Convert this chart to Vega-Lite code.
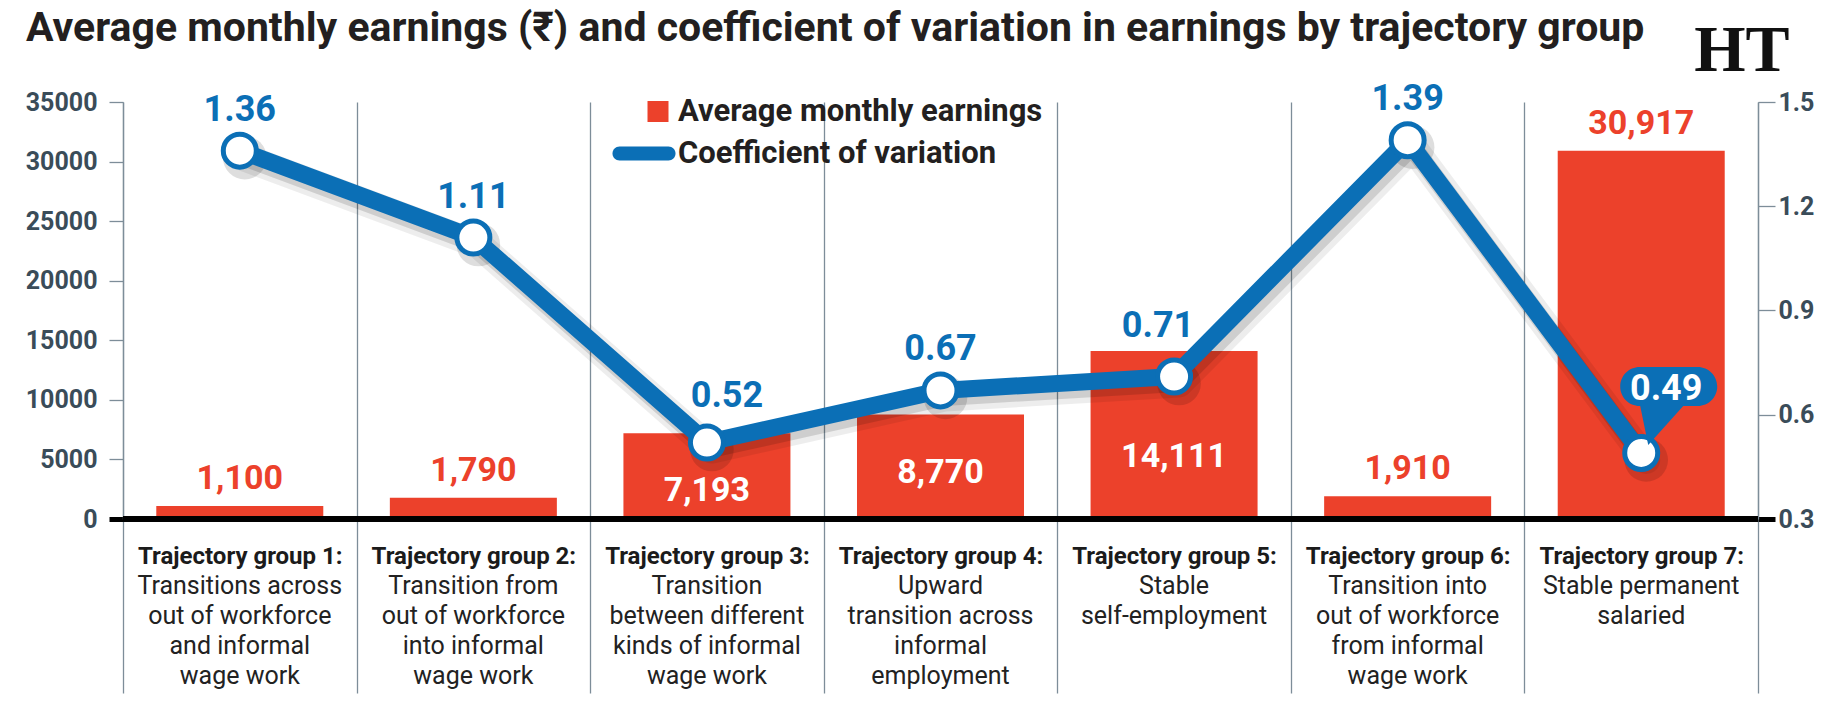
{
  "$schema": "https://vega.github.io/schema/vega-lite/v6.json",
  "width": 1635,
  "height": 417,
  "autosize": {"type": "none"},
  "padding": {"left": 123, "top": 102, "right": 63, "bottom": 188},
  "background": "white",
  "config": {
    "view": {"stroke": null},
    "font": "Roboto, Liberation Sans, sans-serif"
  },
  "title": {
    "text": "Average monthly earnings (₹) and coefficient of variation in earnings by trajectory group",
    "anchor": "start",
    "frame": "group",
    "dx": -97,
    "dy": 33,
    "offset": 0,
    "fontSize": 41,
    "fontWeight": "bold",
    "color": "#231f20"
  },
  "data": {
    "values": [
      {"group": "Trajectory group 1:|Transitions across|out of workforce|and informal|wage work", "earnings": 1100, "cv": 1.36},
      {"group": "Trajectory group 2:|Transition from|out of workforce|into informal|wage work", "earnings": 1790, "cv": 1.11},
      {"group": "Trajectory group 3:|Transition|between different|kinds of informal|wage work", "earnings": 7193, "cv": 0.52},
      {"group": "Trajectory group 4:|Upward|transition across|informal|employment", "earnings": 8770, "cv": 0.67},
      {"group": "Trajectory group 5:|Stable|self-employment", "earnings": 14111, "cv": 0.71},
      {"group": "Trajectory group 6:|Transition into|out of workforce|from informal|wage work", "earnings": 1910, "cv": 1.39},
      {"group": "Trajectory group 7:|Stable permanent|salaried", "earnings": 30917, "cv": 0.49}
    ]
  },
  "layer": [
    {
      "encoding": {
        "y": {
          "field": "earnings",
          "type": "quantitative",
          "scale": {"domain": [0, 35000], "nice": false},
          "axis": {
            "orient": "left",
            "title": null,
            "values": [0, 5000, 10000, 15000, 20000, 25000, 30000, 35000],
            "format": "d",
            "grid": false,
            "domainColor": "#7d8d99",
            "domainWidth": 1.3,
            "tickSize": 14,
            "tickColor": {"condition": {"test": "datum.value === 0", "value": "#000000"}, "value": "#7d8d99"},
            "tickWidth": {"condition": {"test": "datum.value === 0", "value": 5}, "value": 1.3},
            "labelPadding": 12,
            "labelFontSize": 25,
            "labelFontWeight": "bold",
            "labelColor": "#3a4c59"
          }
        }
      },
      "layer": [
        {
          "mark": {"type": "bar", "width": {"band": 0.715}},
          "encoding": {
            "x": {
              "field": "group",
              "type": "nominal",
              "sort": null,
              "scale": {"paddingInner": 0, "paddingOuter": 0},
              "axis": {
                "orient": "bottom",
                "title": null,
                "domain": false,
                "tickBand": "extent",
                "grid": true,
                "gridColor": "#7d8d99",
                "gridWidth": 1.3,
                "ticks": true,
                "tickSize": 174,
                "tickColor": "#7d8d99",
                "tickWidth": 1.3,
                "labelExpr": "datum.value ? split(datum.value, '|')[0] : ''",
                "labelFontSize": 24,
                "labelFontWeight": "bold",
                "labelColor": "#1b1b1b",
                "labelBaseline": "alphabetic",
                "labelPadding": -130,
                "labelLimit": 400,
                "labelOverlap": false,
                "labelAngle": 0
              }
            },
            "color": {
              "datum": "Average monthly earnings",
              "type": "nominal",
              "scale": {
                "domain": ["Average monthly earnings", "Coefficient of variation"],
                "range": ["#ec412b", "#0b6fb6"]
              },
              "legend": {
                "orient": "none",
                "legendX": 521,
                "legendY": -6,
                "title": null,
                "direction": "vertical",
                "padding": 0,
                "symbolSize": 400,
                "symbolStrokeWidth": 0,
                "symbolOpacity": 1,
                "rowPadding": 10,
                "labelOffset": 3,
                "labelFontSize": 31,
                "labelFontWeight": "bold",
                "labelColor": "#231f20",
                "labelLimit": 600,
                "encode": {
                  "symbols": {
                    "update": {
                      "shape": {
                        "signal": "datum.value === 'Coefficient of variation' ? 'M-4,-0.7H0.9A0.7,0.7,0,0,1,0.9,0.7H-4A0.7,0.7,0,0,1,-4,-0.7Z' : 'M-1.2,-1.05H0.9V1.05H-1.2Z'"
                      }
                    }
                  }
                }
              }
            }
          }
        },
        {
          "transform": [{"filter": "datum.earnings < 5000 || datum.earnings > 30000"}],
          "mark": {"type": "text", "color": "#ec412b", "fontSize": 34, "fontWeight": "bold", "baseline": "alphabetic", "dy": -17},
          "encoding": {
            "x": {"field": "group", "type": "nominal", "sort": null},
            "text": {"field": "earnings", "type": "quantitative", "format": ",d"}
          }
        },
        {
          "transform": [{"filter": "datum.earnings > 5000 && datum.earnings < 10000"}],
          "mark": {"type": "text", "color": "white", "fontSize": 34, "fontWeight": "bold", "baseline": "middle", "dy": 58},
          "encoding": {
            "x": {"field": "group", "type": "nominal", "sort": null},
            "text": {"field": "earnings", "type": "quantitative", "format": ",d"}
          }
        },
        {
          "transform": [{"filter": "datum.earnings > 10000 && datum.earnings < 30000"}],
          "mark": {"type": "text", "color": "white", "fontSize": 34, "fontWeight": "bold", "baseline": "middle", "dy": 106},
          "encoding": {
            "x": {"field": "group", "type": "nominal", "sort": null},
            "text": {"field": "earnings", "type": "quantitative", "format": ",d"}
          }
        },
        {
          "mark": {"type": "rule", "color": "#000000", "strokeWidth": 5},
          "encoding": {"y": {"datum": 0, "type": "quantitative"}}
        }
      ]
    },
    {
      "encoding": {
        "x": {
          "field": "group",
          "type": "nominal",
          "sort": null,
          "axis": {
            "orient": "bottom",
            "title": null,
            "domain": false,
            "ticks": false,
            "tickSize": 0,
            "grid": false,
            "labelExpr": "datum.value ? slice(split(datum.value, '|'), 1) : ''",
            "labelFontSize": 25,
            "labelFontWeight": "normal",
            "labelColor": "#222222",
            "labelBaseline": "alphabetic",
            "labelLineHeight": 30,
            "labelPadding": 74,
            "labelLimit": 400,
            "labelOverlap": false,
            "labelAngle": 0
          }
        },
        "y": {
          "field": "cv",
          "type": "quantitative",
          "scale": {"domain": [0.3, 1.5], "nice": false},
          "axis": {
            "orient": "right",
            "title": "HT",
            "titleAngle": 0,
            "titleX": 31,
            "titleY": -32,
            "titleAlign": "right",
            "titleBaseline": "alphabetic",
            "titleFont": "Liberation Serif, DejaVu Serif, serif",
            "titleFontSize": 66,
            "titleFontWeight": "bold",
            "titleColor": "#111111",
            "values": [0.3, 0.6, 0.9, 1.2, 1.5],
            "format": ".1f",
            "grid": false,
            "domainColor": "#7d8d99",
            "domainWidth": 1.3,
            "tickSize": 17,
            "tickColor": {"condition": {"test": "datum.value < 0.31", "value": "#000000"}, "value": "#7d8d99"},
            "tickWidth": {"condition": {"test": "datum.value < 0.31", "value": 5}, "value": 1.3},
            "labelPadding": 3,
            "labelFontSize": 25,
            "labelFontWeight": "bold",
            "labelColor": "#3a4c59"
          }
        }
      },
      "layer": [
        {
          "mark": {"type": "line", "color": "#000000", "opacity": 0.07, "strokeWidth": 28, "strokeJoin": "round", "strokeCap": "round", "xOffset": 5, "yOffset": 7}
        },
        {
          "mark": {"type": "line", "color": "#000000", "opacity": 0.13, "strokeWidth": 19, "strokeJoin": "round", "strokeCap": "round", "xOffset": 4, "yOffset": 6}
        },
        {
          "mark": {"type": "point", "shape": "circle", "filled": true, "color": "#000000", "opacity": 0.13, "size": 1900, "xOffset": 5, "yOffset": 7}
        },
        {
          "mark": {"type": "line", "color": "#0b6fb6", "strokeWidth": 17, "strokeJoin": "round", "strokeCap": "round"}
        },
        {
          "mark": {"type": "point", "shape": "circle", "filled": true, "fill": "white", "stroke": "#0b6fb6", "strokeWidth": 5, "size": 1089, "opacity": 1}
        },
        {
          "transform": [{"filter": "datum.cv !== 0.52 && datum.cv !== 0.71 && datum.cv !== 0.49"}],
          "mark": {"type": "text", "color": "#0b6fb6", "fontSize": 36, "fontWeight": "bold", "baseline": "alphabetic", "dy": -30},
          "encoding": {"text": {"field": "cv", "type": "quantitative", "format": ".2f"}}
        },
        {
          "transform": [{"filter": "datum.cv === 0.52"}],
          "mark": {"type": "text", "color": "#0b6fb6", "fontSize": 36, "fontWeight": "bold", "baseline": "alphabetic", "dx": 20, "dy": -36},
          "encoding": {"text": {"field": "cv", "type": "quantitative", "format": ".2f"}}
        },
        {
          "transform": [{"filter": "datum.cv === 0.71"}],
          "mark": {"type": "text", "color": "#0b6fb6", "fontSize": 36, "fontWeight": "bold", "baseline": "alphabetic", "dx": -16, "dy": -40},
          "encoding": {"text": {"field": "cv", "type": "quantitative", "format": ".2f"}}
        },
        {
          "transform": [{"filter": "datum.cv === 0.49"}],
          "mark": {
            "type": "point",
            "filled": true,
            "color": "#0b6fb6",
            "opacity": 1,
            "size": 4,
            "shape": "M-1.5,-86H56.5A19.5,19.5,0,0,1,56.5,-47H42L7,-8L-1,-47H-1.5A19.5,19.5,0,0,1,-1.5,-86Z"
          }
        },
        {
          "transform": [{"filter": "datum.cv === 0.49"}],
          "mark": {"type": "text", "color": "white", "fontSize": 36, "fontWeight": "bold", "baseline": "alphabetic", "dx": 25, "dy": -53},
          "encoding": {"text": {"field": "cv", "type": "quantitative", "format": ".2f"}}
        }
      ]
    }
  ],
  "resolve": {"scale": {"y": "independent"}, "axis": {"x": "independent"}}
}
